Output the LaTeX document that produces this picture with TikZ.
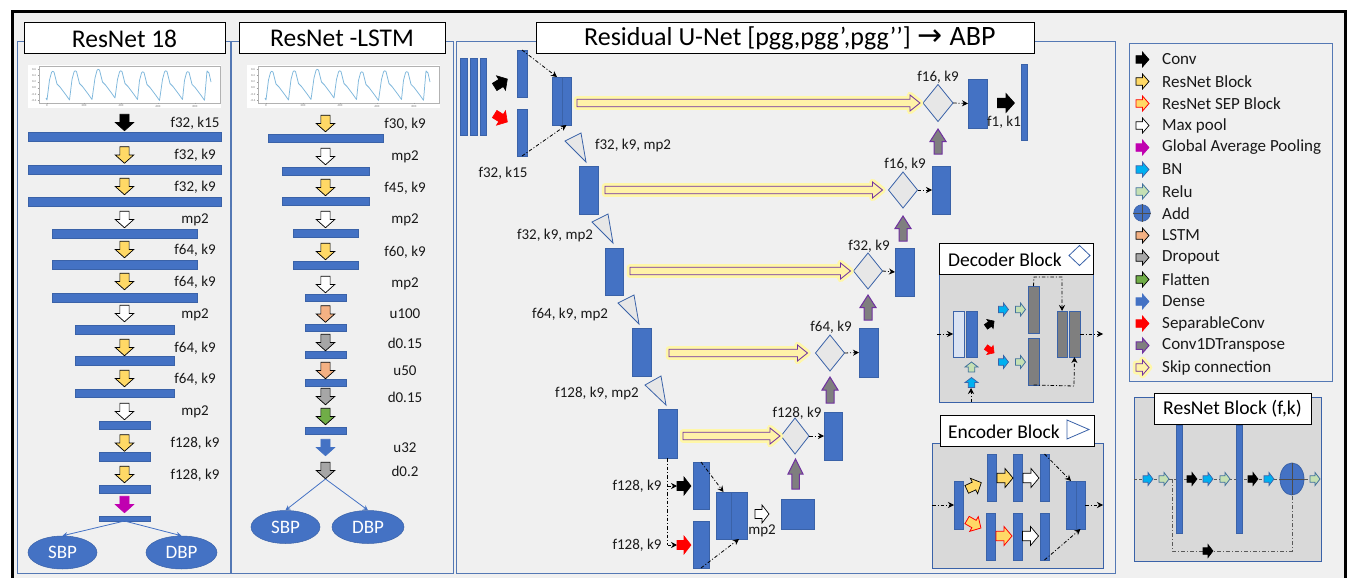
\documentclass[tikz,border=0pt]{standalone}
\usepackage{fontspec}
\setmainfont{Carlito}
\newfontfamily\arrowfont{DejaVu Sans}
\usetikzlibrary{shapes.geometric,calc,arrows.meta}
\definecolor{bgc}{HTML}{F0F0F0}
\definecolor{panelc}{HTML}{5478B4}
\definecolor{barc}{HTML}{4472C4}
\definecolor{barl}{HTML}{3A62A8}
\definecolor{greyp}{HTML}{D9D9D9}
\definecolor{ygold}{HTML}{FFD966}
\definecolor{purp}{HTML}{7030A0}
\definecolor{bnc}{HTML}{00B0F0}
\definecolor{reluc}{HTML}{C5E0B4}
\definecolor{reluline}{HTML}{41719C}
\definecolor{lstmc}{HTML}{F4B183}
\definecolor{dropc}{HTML}{A6A6A6}
\definecolor{flatc}{HTML}{70AD47}
\definecolor{magc}{HTML}{C000B0}
\definecolor{diamc}{HTML}{E7E7E7}
\definecolor{skipc}{HTML}{FFF2A8}
\definecolor{glowc}{HTML}{FFF7A8}
\definecolor{wavec}{HTML}{7FB8DC}
\definecolor{greybar}{HTML}{7F7F7F}
\tikzset{
  panel/.style={draw=panelc,line width=1pt,fill=bgc},
  greypanel/.style={draw=barl,line width=1pt,fill=greyp},
  titlebox/.style={draw=black,line width=1pt,fill=white,inner sep=0pt,font=\fontsize{25.5}{28}\selectfont},
  subtitle/.style={draw=black,line width=1pt,fill=white,inner sep=0pt,font=\fontsize{19.5}{22}\selectfont},
  lbl/.style={inner sep=0pt,font=\fontsize{15}{17}\selectfont,text=black!90},
  legtxt/.style={inner sep=0pt,anchor=west,font=\fontsize{17}{19}\selectfont,text=black!90},
  ovaltxt/.style={ellipse,fill=barc,draw=barl,line width=.5pt,inner sep=0pt,text=white,font=\fontsize{19}{21}\selectfont},
  barbox/.style={rectangle,inner sep=0pt,outer sep=0pt,fill=barc,draw=barl,line width=.7pt},
  lightbar/.style={barbox,fill=barc!20!white},
  darkbar/.style={barbox,fill=greybar},
  diam/.style={diamond,aspect=.8,inner sep=0pt,outer sep=0pt,fill=diamc,draw=barl,line width=.8pt},
  tri/.style={fill=diamc,draw=barl,line width=.8pt,line join=miter},
  conn/.style={-{Stealth[length=5pt,width=5pt]},draw=barc,line width=.8pt},
  dd/.style={-{Stealth[length=6pt,width=6pt]},draw=black,line width=.8pt,dash pattern=on 3.5pt off 2pt on 1pt off 2pt},
  ddn/.style={draw=black,line width=.8pt,dash pattern=on 3.5pt off 2pt on 1pt off 2pt},
  greydd/.style={draw=black!65,line width=1pt,dash pattern=on 4pt off 2pt on 1pt off 2pt},
  ticktxt/.style={inner sep=0pt,font=\fontsize{3}{3}\selectfont,text=black!55},
  a-black/.style={fill=black,draw=black,line width=.6pt},
  a-res/.style={fill=ygold,draw=black,line width=.7pt},
  a-sep/.style={fill=ygold,draw=red,line width=.8pt},
  a-pool/.style={fill=white,draw=black,line width=.7pt},
  a-gap/.style={fill=magc,draw=magc,line width=.6pt},
  a-bn/.style={fill=bnc,draw=barl,line width=.7pt},
  a-relu/.style={fill=reluc,draw=reluline,line width=.8pt},
  a-lstm/.style={fill=lstmc,draw=black,line width=.7pt},
  a-drop/.style={fill=dropc,draw=black,line width=.7pt},
  a-flat/.style={fill=flatc,draw=black,line width=.7pt},
  a-dense/.style={fill=barc,draw=barc,line width=.6pt},
  a-red/.style={fill=red,draw=red,line width=.6pt},
  a-trans/.style={fill=greybar,draw=purp,line width=1pt},
  a-skip/.style={fill=skipc,draw=purp,line width=.8pt,line join=miter,preaction={draw=glowc,line width=6.5pt,line join=round}},
}
% block arrow: style, centre x, y, rotation, length, width
\newcommand\barr[6]{\draw[#1,shift={(#2,#3)},rotate=#4]
  (-#5/2,#6/4)--(0,#6/4)--(0,#6/2)--(#5/2,0)--(0,-#6/2)--(0,-#6/4)--(-#5/2,-#6/4)--cycle;}
% rectangular bar node: style, name, x1,y1,x2,y2
\newcommand\bx[6]{\pgfmathsetmacro\cxx{(#3+#5)/2}\pgfmathsetmacro\cyy{(#4+#6)/2}%
  \pgfmathsetmacro\bxw{#5-#3}\pgfmathsetmacro\bxh{#6-#4}%
  \node[#1,minimum width=\bxw pt,minimum height=\bxh pt] (#2) at (\cxx,\cyy) {};}
% skip connection: node a, start offset, node b, end offset
\newcommand\skiparr[4]{\draw[a-skip] let \p1=(#1.east),\p2=(#3.west) in
  (\x1+#2pt,\y2+3.7pt)--(\x2-#4pt-10pt,\y2+3.7pt)--(\x2-#4pt-10pt,\y2+8pt)--(\x2-#4pt,\y2)--(\x2-#4pt-10pt,\y2-8pt)--(\x2-#4pt-10pt,\y2-3.7pt)--(\x1+#2pt,\y2-3.7pt)--cycle;}
\newcounter{lblc}
\newcommand\lab[3]{\stepcounter{lblc}\node[lbl] (lab\arabic{lblc}) at (#1,#2) {#3};}
\newcommand\legitem[3]{\stepcounter{lblc}\barr{#2}{1142.5}{#1}{0}{13}{15}\node[legtxt] (lab\arabic{lblc}) at (1162,#1) {#3};}
\newcommand\ticklab[3]{\stepcounter{lblc}\node[ticktxt] (lab\arabic{lblc}) at (#1,#2) {#3};}
% signal thumbnail, x offset
\newcommand\signal[1]{\begin{scope}[shift={(#1,0)}]
  \fill[white] (28,65) rectangle (221,108);
  \draw[black!30,line width=.7pt] (39,66) rectangle (220,103);
  \foreach \tx/\tl in {47/0,84/200,121/400,158/600,195/800}{\draw[black!40,line width=.3pt] (\tx,103)--(\tx,104.5);\ticklab{\tx}{106}{\tl}}
  \foreach \ty/\tl in {69/0.6,75.5/0.4,82/0.2,88/0.0,94.5/-0.2,100.5/-0.4}{\draw[black!40,line width=.3pt] (37.5,\ty)--(39,\ty);\ticklab{34}{\ty}{\tl}}
  \draw[wavec,line width=.75pt,line join=round]
   (46,98)--(47,100)
   \foreach \p/\dy in {47/0,69.5/-0.5,92.5/-2,115/-0.5,137/0.5,160/-0.5,182/0.3}{
     --(\p+2.5,80+\dy)--(\p+4.5,72.5+\dy)--(\p+5.5,71.3+\dy)--(\p+7,72+\dy)--(\p+9,80+\dy)--(\p+10,84+\dy)--(\p+13,87+\dy)--(\p+16,91+\dy)--(\p+19,95+\dy)--(\p+22.5,100+\dy)}
   --(207,71)--(209,73)--(211,82);
\end{scope}}
\begin{document}
\begin{tikzpicture}[x=1pt,y=-1pt]
\useasboundingbox (0,0) rectangle (1353,578);
\clip (0,0) rectangle (1353,578);
\fill[white] (0,0) rectangle (1353,578);
\draw[black,line width=3pt,fill=bgc] (12.5,12) rectangle (1345,600);

% panels
\draw[panel] (17.5,42) rectangle (230,573.5);
\draw[panel] (231.5,42) rectangle (453,573.5);
\draw[panel] (456,42) rectangle (1115,573.5);
\draw[panel] (1129,44) rectangle (1332,381);

\node[titlebox,minimum width=201pt,minimum height=31pt] (t1) at (124.5,38.5) {ResNet 18};
\node[titlebox,minimum width=206pt,minimum height=31pt] (t2) at (342,38.5) {ResNet -LSTM};
\node[titlebox,minimum width=498pt,minimum height=31pt] (t3) at (785,38.5) {};
\node[inner sep=0pt,anchor=west,font=\fontsize{26}{28}\selectfont] (t3t) at (584,38.5) {Residual U-Net [pgg,pgg’,pgg’’]\hspace{1pt} {\arrowfont\fontsize{30}{30}\selectfont\smash{→}}\hspace{1pt} {\fontsize{28}{30}\selectfont ABP}};

\signal{0}
\signal{219}

% ---- ResNet 18
\bx{barbox}{ra1}{28}{132}{221}{141}
\bx{barbox}{ra2}{28}{165}{221}{174}
\bx{barbox}{ra3}{28}{197}{221}{206}
\bx{barbox}{ra4}{52}{229}{197}{238}
\bx{barbox}{ra5}{52}{260}{197}{269}
\bx{barbox}{ra6}{52}{293}{197}{302}
\bx{barbox}{ra7}{75}{325}{174}{334}
\bx{barbox}{ra8}{75}{356}{174}{365}
\bx{barbox}{ra9}{75}{389}{174}{397}
\bx{barbox}{ra10}{99}{421}{150}{429}
\bx{barbox}{ra11}{99}{452}{150}{461}
\bx{barbox}{ra12}{99}{485}{150}{493}
\bx{barbox}{ra13}{99}{516}{150}{521}
\foreach \sty/\yy in {a-black/122.5,a-res/155,a-res/186.5,a-pool/219.5,a-res/249.5,a-res/281.5,a-pool/313.5,a-res/347.5,a-res/378.5,a-pool/411.5,a-res/443,a-res/474.5,a-gap/504.5}{
  \barr{\sty}{124.5}{\yy}{-90}{16.5}{18.5}}
\lab{195}{123}{f32, k15}\lab{195}{155}{f32, k9}\lab{195}{187}{f32, k9}\lab{195}{220}{mp2}
\lab{195}{250}{f64, k9}\lab{195}{282}{f64, k9}\lab{195}{315}{mp2}\lab{195}{348}{f64, k9}
\lab{195}{379}{f64, k9}\lab{195}{412}{mp2}\lab{195}{443}{f128, k9}\lab{195}{475}{f128, k9}
\node[ovaltxt,minimum width=69pt,minimum height=33pt] (sbp1) at (62.5,552.5) {SBP};
\node[ovaltxt,minimum width=71pt,minimum height=33pt] (dbp1) at (181.5,552.5) {DBP};
\draw[conn] (ra13.south)--(sbp1.north);
\draw[conn] (ra13.south)--(dbp1.north);

% ---- ResNet LSTM
\bx{barbox}{rb1}{268}{134}{383}{142}
\bx{barbox}{rb2}{282}{167}{369}{175}
\bx{barbox}{rb3}{282}{197}{369}{205}
\bx{barbox}{rb4}{293}{229}{358}{237}
\bx{barbox}{rb5}{293}{261}{358}{269}
\bx{barbox}{rb6}{305}{294}{346}{301}
\bx{barbox}{rb7}{305}{324}{346}{331}
\bx{barbox}{rb8}{305}{351}{346}{358}
\bx{barbox}{rb9}{305}{379}{346}{386}
\bx{barbox}{rb10}{305}{427}{346}{434}
\foreach \sty/\yy in {a-res/123.5,a-pool/156.5,a-res/187.5,a-pool/219.5,a-res/251.5,a-pool/284.5,a-lstm/314,a-drop/342.5,a-lstm/370.5,a-drop/396.5,a-flat/416.5,a-dense/447.5,a-drop/470.5}{
  \barr{\sty}{325.5}{\yy}{-90}{16.5}{18.5}}
\lab{405}{124}{f30, k9}\lab{405}{157}{mp2}\lab{405}{188}{f45, k9}\lab{405}{220}{mp2}
\lab{405}{252}{f60, k9}\lab{405}{284}{mp2}\lab{405}{314}{u100}\lab{405}{343}{d0.15}
\lab{405}{371}{u50}\lab{405}{397}{d0.15}\lab{405}{448}{u32}\lab{405}{471}{d0.2}
\coordinate (lsplit) at (325.5,479);
\node[ovaltxt,minimum width=69pt,minimum height=33pt] (sbp2) at (285.5,527) {SBP};
\node[ovaltxt,minimum width=72pt,minimum height=33pt] (dbp2) at (368,527) {DBP};
\draw[conn] (lsplit)--(sbp2.north);
\draw[conn] (lsplit)--(dbp2.north);

% ---- U-Net: input
\bx{barbox}{in1}{460}{58}{467}{135}
\bx{barbox}{in2}{470}{58}{477}{135}
\bx{barbox}{in3}{480}{58}{486}{135}
\barr{a-black}{501}{83}{32}{15}{17}
\barr{a-red}{501}{118}{-32}{15}{17}
\bx{barbox}{c1}{517}{50}{527}{97}
\bx{barbox}{c2}{517}{109}{527}{156}
\bx{barbox}{m1l}{552}{77}{562}{125}
\bx{barbox}{m1r}{562}{77}{571}{125}
\draw[dd] (c1.north)--(m1l.north);
\draw[dd] (c2.south)--(m1r.south);
\lab{503}{173}{f32, k15}

% encoder levels
\bx{barbox}{e2}{579}{166}{598}{214}
\bx{barbox}{e3}{605}{248}{623}{295}
\bx{barbox}{e4}{632}{328}{651}{376}
\bx{barbox}{e5}{658}{409}{677}{458}
\draw[tri] (565,141)--(581,133)--(586,162)--cycle;
\draw[tri] (592,222)--(608,214)--(613,243)--cycle;
\draw[tri] (618,303)--(634,295)--(639,324)--cycle;
\draw[tri] (645,385)--(661,376)--(666,405)--cycle;
\lab{633}{146}{f32, k9, mp2}
\lab{555}{236}{f32, k9, mp2}
\lab{570}{314}{f64, k9, mp2}
\lab{597}{393}{f128, k9, mp2}

% decoder levels
\node[diam,minimum width=30pt,minimum height=37pt] (d1) at (938,103) {};
\node[diam,minimum width=29pt,minimum height=36pt] (d2) at (903,190) {};
\node[diam,minimum width=29pt,minimum height=36pt] (d3) at (868,271) {};
\node[diam,minimum width=29pt,minimum height=36pt] (d4) at (830,353) {};
\node[diam,minimum width=28pt,minimum height=36pt] (d5) at (795,436) {};
\bx{barbox}{u1}{968}{79}{987}{128}
\bx{barbox}{u2}{932}{166}{950}{214}
\bx{barbox}{u3}{895}{248}{914}{296}
\bx{barbox}{u4}{859}{328}{878}{377}
\bx{barbox}{u5}{824}{412}{842}{460}
\bx{barbox}{u0}{1021}{64}{1027}{140}
\foreach \a/\b in {d1/u1,d2/u2,d3/u3,d4/u4,d5/u5}{\draw[dd] (\a.east)--(\b.west);}
\skiparr{m1r}{6}{d1}{3}
\skiparr{e2}{7}{d2}{6}
\skiparr{e3}{7}{d3}{3}
\skiparr{e4}{18}{d4}{8}
\skiparr{e5}{6}{d5}{1}
\barr{a-trans}{938}{141.5}{90}{25}{16}
\barr{a-trans}{903}{228.5}{90}{25}{16}
\barr{a-trans}{868}{307.5}{90}{25}{16}
\barr{a-trans}{830}{390}{90}{26}{16}
\barr{a-trans}{795.5}{474}{90}{30}{15}
\barr{a-black}{1006}{103}{0}{17}{19}
\lab{938}{77}{f16, k9}\lab{905}{164}{f16, k9}\lab{869}{246}{f32, k9}\lab{831}{327}{f64, k9}\lab{797}{413}{f128, k9}
\lab{1004}{122}{f1, k1}

% bottleneck
\coordinate (bj1) at (667.5,486);
\coordinate (bj2) at (667.5,545);
\coordinate (bk1) at (677,486);
\coordinate (bk2) at (677,545);
\draw[ddn] (e5.south)--(bj2);
\draw[dd] (bj1)--(bk1);
\draw[dd] (bj2)--(bk2);
\barr{a-black}{684}{486}{0}{14}{18}
\barr{a-red}{684}{545}{0}{14}{18}
\bx{barbox}{bc1}{693}{462}{709}{509}
\bx{barbox}{bc2}{693}{521}{709}{568}
\bx{barbox}{bm1}{716}{492}{731}{539}
\bx{barbox}{bm2}{731}{492}{747}{539}
\draw[dd] (bc1.north)--(bm1.north);
\draw[dd] (bc2.south)--(bm2.south);
\barr{a-pool}{762}{514}{0}{14}{18}
\bx{barbox}{bs}{781}{499}{814}{529}
\lab{637}{486}{f128, k9}\lab{637}{545}{f128, k9}\lab{762}{531}{mp2}

% ---- Decoder block
\draw[greypanel] (939,273) rectangle (1093,402);
\node[subtitle,minimum width=154pt,minimum height=31pt] (dt) at (1016,259) {};
\node[inner sep=0pt,font=\fontsize{19.5}{22}\selectfont] (dtt) at (1005,259.5) {Decoder Block};
\node[diam,fill=white,minimum width=21pt,minimum height=20pt,aspect=1] (dk) at (1079.5,255.5) {};
\bx{lightbar}{db1}{953}{311}{964}{357}
\bx{barbox}{db2}{966}{311}{977}{357}
\bx{darkbar}{db3}{1028}{286}{1039}{333}
\bx{darkbar}{db4}{1028}{338}{1039}{385}
\bx{darkbar}{db5}{1057}{311}{1067}{357}
\bx{darkbar}{db6}{1069}{311}{1080}{357}
\coordinate (din) at (937,334);
\coordinate (dout) at (1103,334);
\coordinate (dlow) at (971,402);
\coordinate (dlowe) at (971,388);
\coordinate (dt1) at (1034,277);
\coordinate (dt2) at (1062,277);
\coordinate (db) at (1074,386);
\draw[dd] (din)--(db1.west);
\draw[dd] (db6.east)--(dout);
\draw[dd] (dlow)--(dlowe);
\draw[dd] (db3.north)--(dt1)--(dt2)--(db5.north);
\draw[dd] (db4.south)--(db)--(db6.south);
\barr{a-bn}{971.5}{382.5}{90}{10}{13}
\barr{a-relu}{971.5}{367}{90}{10}{13}
\barr{a-black}{990}{324}{35}{10}{11}
\barr{a-red}{990}{350}{-35}{10}{11}
\barr{a-bn}{1003.5}{309.5}{0}{10}{13}
\barr{a-relu}{1020.5}{309.5}{0}{10}{13}
\barr{a-bn}{1003.5}{362}{0}{10}{13}
\barr{a-relu}{1020.5}{362}{0}{10}{13}

% ---- Encoder block
\draw[greypanel] (932,443) rectangle (1103,568);
\node[subtitle,minimum width=154pt,minimum height=31pt] (et) at (1017,430.5) {};
\node[inner sep=0pt,font=\fontsize{19.5}{22}\selectfont] (ett) at (1004,431.5) {Encoder Block};
\draw[tri,fill=white] (1067,420)--(1089,429.5)--(1067,439)--cycle;
\bx{barbox}{eb1}{954}{481}{963}{529}
\bx{barbox}{eb2}{987}{454}{996}{501}
\bx{barbox}{eb3}{986}{513}{995}{560}
\bx{barbox}{eb4}{1013}{454}{1022}{501}
\bx{barbox}{eb5}{1013}{513}{1022}{560}
\bx{barbox}{eb6}{1040}{454}{1049}{501}
\bx{barbox}{eb7}{1040}{513}{1049}{560}
\bx{barbox}{eb8}{1066}{481}{1076}{529}
\bx{barbox}{eb9}{1076}{481}{1085}{529}
\coordinate (ein) at (932,505);
\coordinate (eout) at (1103,505);
\draw[dd] (ein)--(eb1.west);
\draw[dd] (eb9.east)--(eout);
\draw[dd] (eb6.north)--(eb8.north);
\draw[dd] (eb7.south)--(eb9.south);
\barr{a-res}{974}{486}{25}{16}{17}
\barr{a-sep}{974}{524}{-30}{16}{17}
\barr{a-res}{1005}{478}{0}{16}{19}
\barr{a-pool}{1031}{478}{0}{16}{19}
\barr{a-sep}{1004}{536}{0}{16}{19}
\barr{a-pool}{1030.5}{536}{0}{16}{19}

% ---- ResNet block
\draw[greypanel] (1134,397) rectangle (1321,561);
\coordinate (rsl) at (1134,479);
\coordinate (rsj) at (1172,479);
\coordinate (rsc) at (1172,551);
\coordinate (rsd) at (1292,551);
\coordinate (rsr) at (1310,479);
\node[ellipse,fill=barc,draw=barl,line width=.8pt,minimum width=24pt,minimum height=32pt,inner sep=0pt] (radd) at (1292,479) {};
\draw[greydd,dash pattern=on 3pt off 2pt] (rsl)--(radd.west);
\draw[greydd] (radd.east)--(rsr);
\draw[greydd] (rsj)--(rsc)--(rsd)--(radd.south);
\bx{barbox}{rn1}{1176}{425}{1182}{533}
\bx{barbox}{rn2}{1236}{425}{1242}{533}
\draw[black!70,line width=.5pt] (radd.north)--(radd.south) (radd.west)--(radd.east);
\node[subtitle,minimum width=157pt,minimum height=31pt,font=\fontsize{19.6}{22}\selectfont] (rt) at (1232.5,409) {ResNet Block (f,k)};
\barr{a-bn}{1148}{479}{0}{10}{13}
\barr{a-relu}{1164}{479}{0}{10}{13}
\barr{a-black}{1192}{479}{0}{10}{13}
\barr{a-bn}{1208}{479}{0}{10}{13}
\barr{a-relu}{1225}{479}{0}{10}{13}
\barr{a-black}{1253}{479}{0}{10}{13}
\barr{a-bn}{1269}{479}{0}{10}{13}
\barr{a-relu}{1315}{479}{0}{10}{13}
\barr{a-black}{1208}{551}{0}{10}{13}

% ---- Legend
\legitem{59.5}{a-black}{Conv}
\legitem{81.5}{a-res}{ResNet Block}
\legitem{103.5}{a-sep}{ResNet SEP Block}
\legitem{125.5}{a-pool}{Max pool}
\legitem{147.5}{a-gap}{Global Average Pooling}
\legitem{169.5}{a-bn}{BN}
\legitem{191.5}{a-relu}{Relu}
\node[circle,fill=barc,draw=barl,line width=.7pt,minimum size=16.5pt,inner sep=0pt] (ladd) at (1142,213) {};
\draw[black!70,line width=.5pt] (ladd.north)--(ladd.south) (ladd.west)--(ladd.east);
\node[legtxt] (laddt) at (1162,213.5) {Add};
\legitem{235.5}{a-lstm}{LSTM}
\legitem{257.5}{a-drop}{Dropout}
\legitem{279.5}{a-flat}{Flatten}
\legitem{301.5}{a-dense}{Dense}
\legitem{323.5}{a-red}{SeparableConv}
\legitem{345.5}{a-trans}{Conv1DTranspose}
\legitem{367.5}{a-skip}{Skip connection}
\end{tikzpicture}
\end{document}
